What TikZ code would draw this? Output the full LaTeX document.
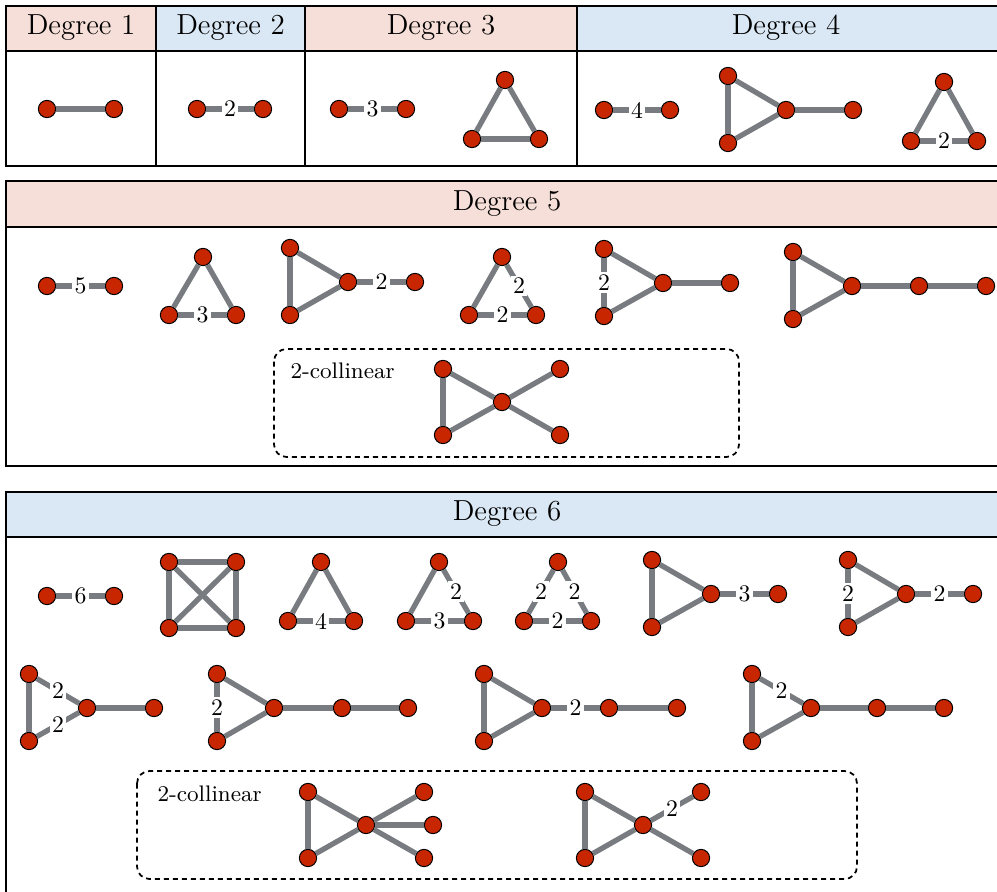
\documentclass[tikz,border=0pt]{standalone}
\usepackage{tikz}
\definecolor{hpink}{RGB}{247,223,217}
\definecolor{hblue}{RGB}{218,232,245}
\definecolor{egray}{RGB}{120,124,128}
\definecolor{vred}{RGB}{200,38,0}
\begin{document}
\begin{tikzpicture}[x=0.4pt,y=-0.4pt,
  vx/.style={circle,fill=vred,draw=black,line width=0.4pt,minimum size=6.9pt,inner sep=0pt},
  ed/.style={draw=egray,line width=2.1pt},
  lab/.style={fill=white,inner sep=0.9pt,font=\fontsize{9.5}{10}\selectfont},
  frame/.style={draw=black,line width=0.8pt},
  hdr/.style={font=\fontsize{11.6}{13}\selectfont,inner sep=0pt},
  cbox/.style={draw=black,line width=0.7pt,dash pattern=on 2pt off 1.6pt,rounded corners=5pt},
  ctext/.style={font=\fontsize{9}{10}\selectfont,inner sep=0pt,anchor=west}]
\useasboundingbox (0,0) rectangle (997,891);
% ---------- Table 1 ----------
\fill[hpink] (6,6) rectangle (156,51);
\fill[hblue] (156,6) rectangle (305,51);
\fill[hpink] (305,6) rectangle (577,51);
\fill[hblue] (577,6) rectangle (1010,51);
\draw[frame] (6,6) rectangle (1010,166);
\draw[frame] (6,51) -- (1010,51);
\draw[frame] (156,6) -- (156,166);
\draw[frame] (305,6) -- (305,166);
\draw[frame] (577,6) -- (577,166);
\node[hdr] (h1) at (81,28) {Degree 1};
\node[hdr] (h2) at (230.5,28) {Degree 2};
\node[hdr] (h3) at (441,28) {Degree 3};
\node[hdr] (h4) at (786,28) {Degree 4};
% deg 1
\node[vx] (a1) at (47,109) {};
\node[vx] (a2) at (114,109) {};
\draw[ed] (a1) -- (a2);
% deg 2
\node[vx] (b1) at (197,109) {};
\node[vx] (b2) at (263,109) {};
\draw[ed] (b1) -- node[lab]{2} (b2);
% deg 3
\node[vx] (c1) at (339,109) {};
\node[vx] (c2) at (406,109) {};
\draw[ed] (c1) -- node[lab]{3} (c2);
\node[vx] (c3) at (505,80) {};
\node[vx] (c4) at (472,139) {};
\node[vx] (c5) at (539,139) {};
\draw[ed] (c3) -- (c4); \draw[ed] (c4) -- (c5); \draw[ed] (c5) -- (c3);
% deg 4
\node[vx] (d1) at (604,110) {};
\node[vx] (d2) at (670,110) {};
\draw[ed] (d1) -- node[lab]{4} (d2);
\node[vx] (d3) at (728,76) {};
\node[vx] (d4) at (728,143) {};
\node[vx] (d5) at (786,110) {};
\node[vx] (d6) at (853,110) {};
\draw[ed] (d3) -- (d4); \draw[ed] (d4) -- (d5); \draw[ed] (d5) -- (d3); \draw[ed] (d5) -- (d6);
\node[vx] (d7) at (944,82) {};
\node[vx] (d8) at (911,141) {};
\node[vx] (d9) at (977,141) {};
\draw[ed] (d7) -- (d8); \draw[ed] (d8) -- node[lab]{2} (d9); \draw[ed] (d9) -- (d7);
% ---------- Table 2 ----------
\fill[hpink] (6,181) rectangle (1010,227);
\draw[frame] (6,181) rectangle (1010,466);
\draw[frame] (6,227) -- (1010,227);
\node[hdr] (h5) at (507,204) {Degree 5};
\node[vx] (e1) at (47,286) {};
\node[vx] (e2) at (114,286) {};
\draw[ed] (e1) -- node[lab]{5} (e2);
\node[vx] (f1) at (203,257) {};
\node[vx] (f2) at (169,315) {};
\node[vx] (f3) at (236,315) {};
\draw[ed] (f1) -- (f2); \draw[ed] (f2) -- node[lab]{3} (f3); \draw[ed] (f3) -- (f1);
\node[vx] (g1) at (290,248) {};
\node[vx] (g2) at (290,315) {};
\node[vx] (g3) at (348,282) {};
\node[vx] (g4) at (415,282) {};
\draw[ed] (g1) -- (g2); \draw[ed] (g2) -- (g3); \draw[ed] (g3) -- (g1); \draw[ed] (g3) -- node[lab]{2} (g4);
\node[vx] (k1) at (502,257) {};
\node[vx] (k2) at (469,315) {};
\node[vx] (k3) at (536,315) {};
\draw[ed] (k1) -- (k2); \draw[ed] (k2) -- node[lab]{2} (k3); \draw[ed] (k3) -- node[lab]{2} (k1);
\node[vx] (m1) at (604,249) {};
\node[vx] (m2) at (604,316) {};
\node[vx] (m3) at (663,283) {};
\node[vx] (m4) at (730,283) {};
\draw[ed] (m1) -- node[lab]{2} (m2); \draw[ed] (m2) -- (m3); \draw[ed] (m3) -- (m1); \draw[ed] (m3) -- (m4);
\node[vx] (n1) at (793,252) {};
\node[vx] (n2) at (793,319) {};
\node[vx] (n3) at (852,286) {};
\node[vx] (n4) at (919,286) {};
\node[vx] (n5) at (986,286) {};
\draw[ed] (n1) -- (n2); \draw[ed] (n2) -- (n3); \draw[ed] (n3) -- (n1); \draw[ed] (n3) -- (n4); \draw[ed] (n4) -- (n5);
\draw[cbox] (274,349) rectangle (739,457);
\node[ctext] (cl1) at (290,371) {2-collinear};
\node[vx] (p1) at (443,369) {};
\node[vx] (p2) at (443,435) {};
\node[vx] (p3) at (502,402) {};
\node[vx] (p4) at (560,369) {};
\node[vx] (p5) at (560,435) {};
\draw[ed] (p1) -- (p2); \draw[ed] (p2) -- (p3); \draw[ed] (p3) -- (p1); \draw[ed] (p3) -- (p4); \draw[ed] (p3) -- (p5);
% ---------- Table 3 ----------
\fill[hblue] (6,492) rectangle (1010,537);
\draw[frame] (6,492) rectangle (1010,900);
\draw[frame] (6,537) -- (1010,537);
\node[hdr] (h6) at (507,514) {Degree 6};
\node[vx] (q1) at (47,596) {};
\node[vx] (q2) at (114,596) {};
\draw[ed] (q1) -- node[lab]{6} (q2);
\node[vx] (r1) at (169,562) {};
\node[vx] (r2) at (236,562) {};
\node[vx] (r3) at (169,628) {};
\node[vx] (r4) at (236,628) {};
\draw[ed] (r1) -- (r2); \draw[ed] (r2) -- (r4); \draw[ed] (r4) -- (r3); \draw[ed] (r3) -- (r1);
\draw[ed] (r1) -- (r4); \draw[ed] (r2) -- (r3);
\node[vx] (s1) at (321,562) {};
\node[vx] (s2) at (288,621) {};
\node[vx] (s3) at (354,621) {};
\draw[ed] (s1) -- (s2); \draw[ed] (s2) -- node[lab]{4} (s3); \draw[ed] (s3) -- (s1);
\node[vx] (t1) at (439,562) {};
\node[vx] (t2) at (406,621) {};
\node[vx] (t3) at (473,621) {};
\draw[ed] (t1) -- (t2); \draw[ed] (t2) -- node[lab]{3} (t3); \draw[ed] (t3) -- node[lab]{2} (t1);
\node[vx] (u1) at (558,562) {};
\node[vx] (u2) at (524,621) {};
\node[vx] (u3) at (591,621) {};
\draw[ed] (u1) -- node[lab]{2} (u2); \draw[ed] (u2) -- node[lab]{2} (u3); \draw[ed] (u3) -- node[lab]{2} (u1);
\node[vx] (w1) at (652,560) {};
\node[vx] (w2) at (652,627) {};
\node[vx] (w3) at (711,594) {};
\node[vx] (w4) at (778,594) {};
\draw[ed] (w1) -- (w2); \draw[ed] (w2) -- (w3); \draw[ed] (w3) -- (w1); \draw[ed] (w3) -- node[lab]{3} (w4);
\node[vx] (x1) at (848,560) {};
\node[vx] (x2) at (848,627) {};
\node[vx] (x3) at (906,594) {};
\node[vx] (x4) at (973,594) {};
\draw[ed] (x1) -- node[lab]{2} (x2); \draw[ed] (x2) -- (x3); \draw[ed] (x3) -- (x1); \draw[ed] (x3) -- node[lab]{2} (x4);
% row 2
\node[vx] (y1) at (29,674) {};
\node[vx] (y2) at (29,741) {};
\node[vx] (y3) at (87,708) {};
\node[vx] (y4) at (154,708) {};
\draw[ed] (y1) -- (y2); \draw[ed] (y2) -- node[lab]{2} (y3); \draw[ed] (y3) -- node[lab]{2} (y1); \draw[ed] (y3) -- (y4);
\node[vx] (z1) at (217,674) {};
\node[vx] (z2) at (217,741) {};
\node[vx] (z3) at (274,708) {};
\node[vx] (z4) at (342,708) {};
\node[vx] (z5) at (408,708) {};
\draw[ed] (z1) -- node[lab]{2} (z2); \draw[ed] (z2) -- (z3); \draw[ed] (z3) -- (z1); \draw[ed] (z3) -- (z4); \draw[ed] (z4) -- (z5);
\node[vx] (aa1) at (484,674) {};
\node[vx] (aa2) at (484,741) {};
\node[vx] (aa3) at (542,708) {};
\node[vx] (aa4) at (609,708) {};
\node[vx] (aa5) at (677,708) {};
\draw[ed] (aa1) -- (aa2); \draw[ed] (aa2) -- (aa3); \draw[ed] (aa3) -- (aa1); \draw[ed] (aa3) -- node[lab]{2} (aa4); \draw[ed] (aa4) -- (aa5);
\node[vx] (bb1) at (752,674) {};
\node[vx] (bb2) at (752,741) {};
\node[vx] (bb3) at (811,708) {};
\node[vx] (bb4) at (877,708) {};
\node[vx] (bb5) at (944,708) {};
\draw[ed] (bb1) -- (bb2); \draw[ed] (bb2) -- (bb3); \draw[ed] (bb3) -- node[lab]{2} (bb1); \draw[ed] (bb3) -- (bb4); \draw[ed] (bb4) -- (bb5);
% collinear box
\draw[cbox] (137,771) rectangle (857,879);
\node[ctext] (cl2) at (157,794) {2-collinear};
\node[vx] (cc1) at (308,792) {};
\node[vx] (cc2) at (308,858) {};
\node[vx] (cc3) at (366,825) {};
\node[vx] (cc4) at (424,792) {};
\node[vx] (cc5) at (433,825) {};
\node[vx] (cc6) at (424,858) {};
\draw[ed] (cc1) -- (cc2); \draw[ed] (cc2) -- (cc3); \draw[ed] (cc3) -- (cc1);
\draw[ed] (cc3) -- (cc4); \draw[ed] (cc3) -- (cc5); \draw[ed] (cc3) -- (cc6);
\node[vx] (dd1) at (585,792) {};
\node[vx] (dd2) at (585,858) {};
\node[vx] (dd3) at (643,825) {};
\node[vx] (dd4) at (701,792) {};
\node[vx] (dd5) at (701,858) {};
\draw[ed] (dd1) -- (dd2); \draw[ed] (dd2) -- (dd3); \draw[ed] (dd3) -- (dd1);
\draw[ed] (dd3) -- node[lab]{2} (dd4); \draw[ed] (dd3) -- (dd5);
\end{tikzpicture}
\end{document}
